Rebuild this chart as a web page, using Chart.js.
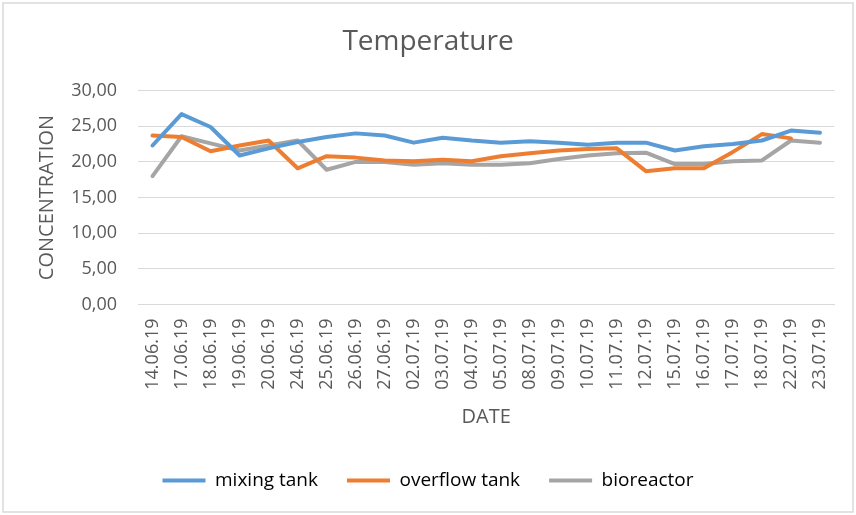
<!DOCTYPE html>
<html>
<head>
<meta charset="utf-8">
<script src="https://cdn.jsdelivr.net/npm/chart.js@4"></script>
<style>
	html, body { margin: 0; padding: 0; background: #fff; }
	#wrap { width: 856px; height: 515px; }
</style>
</head>
<body>
<div id="wrap"><canvas id="tempChart" width="856" height="515"></canvas></div>
<script>
var dates = ["14.06.19", "17.06.19", "18.06.19", "19.06.19", "20.06.19", "24.06.19", "25.06.19", "26.06.19",
	"27.06.19", "02.07.19", "03.07.19", "04.07.19", "05.07.19", "08.07.19", "09.07.19", "10.07.19",
	"11.07.19", "12.07.19", "15.07.19", "16.07.19", "17.07.19", "18.07.19", "22.07.19", "23.07.19"];

var mixingTank = [22.3, 26.7, 24.9, 20.9, 21.9, 22.8, 23.5, 24.0, 23.7, 22.7, 23.4, 23.0,
	22.7, 22.9, 22.7, 22.4, 22.7, 22.7, 21.6, 22.2, 22.5, 23.0, 24.4, 24.1];
var overflowTank = [23.7, 23.5, 21.5, 22.3, 23.0, 19.1, 20.8, 20.6, 20.2, 20.1, 20.3, 20.1,
	20.8, 21.2, 21.6, 21.8, 21.9, 18.7, 19.1, 19.1, 21.4, 23.9, 23.3, null];
var bioreactor = [18.0, 23.6, 22.6, 21.6, 22.3, 23.0, 18.9, 20.0, 20.0, 19.6, 19.8, 19.6,
	19.6, 19.8, 20.4, 20.9, 21.2, 21.3, 19.7, 19.7, 20.1, 20.2, 23.0, 22.7];

var yTicks = [0, 5, 10, 15, 20, 25, 30];

var textColor = "#595959";
var gridColor = "#d9d9d9";
var fontName = "'Open Sans', sans-serif";

Chart.defaults.font.family = fontName;
Chart.defaults.color = textColor;

function line(name, data, color) {
	return {
		label: name,
		data: data,
		borderColor: color,
		backgroundColor: color,
		borderWidth: 4,
		pointRadius: 0,
		pointHoverRadius: 0,
		tension: 0,
		borderJoinStyle: "round",
		borderCapStyle: "round",
		fill: false,
	};
}

// outer frame like the excel chart box
var framePlugin = {
	id: "frame",
	beforeDraw: function (chart) {
		var ctx = chart.ctx;
		ctx.save();
		ctx.fillStyle = "#fff";
		ctx.fillRect(0, 0, chart.width, chart.height);
		ctx.strokeStyle = gridColor;
		ctx.lineWidth = 1.5;
		ctx.strokeRect(3, 3, chart.width - 6, chart.height - 6);
		ctx.restore();
	},
};

var ctx = document.getElementById("tempChart").getContext("2d");
var tempChart = new Chart(ctx, {
	type: "line",
	data: {
		labels: dates,
		datasets: [
			line("mixing tank", mixingTank, "#5b9bd5"),
			line("overflow tank", overflowTank, "#ed7d31"),
			line("bioreactor", bioreactor, "#a5a5a5"),
		],
	},
	options: {
		responsive: false,
		animation: false,
		spanGaps: false,
		layout: { padding: { top: 10, left: 20, right: 20, bottom: 15 } },
		plugins: {
			title: {
				display: true,
				text: "Temperature",
				color: textColor,
				font: { size: 28, weight: "normal" },
				padding: { top: 15, bottom: 32 },
			},
			legend: {
				position: "bottom",
				labels: {
					boxWidth: 43,
					boxHeight: 4,
					padding: 29,
					color: textColor,
					font: { size: 19 },
					generateLabels: function (chart) {
						return chart.data.datasets.map(function (ds, i) {
							return {
								text: ds.label,
								fillStyle: ds.borderColor,
								strokeStyle: ds.borderColor,
								lineWidth: 0,
								datasetIndex: i,
							};
						});
					},
				},
			},
			tooltip: { enabled: false },
		},
		scales: {
			x: {
				offset: true,
				grid: { display: false, drawTicks: false },
				border: { display: true, color: gridColor, width: 1 },
				ticks: {
					autoSkip: false,
					minRotation: 90,
					maxRotation: 90,
					padding: 14,
					color: textColor,
					font: { size: 18 },
				},
				title: {
					display: true,
					text: "DATE",
					color: textColor,
					font: { size: 20 },
					padding: { top: 14, bottom: 13 },
				},
				afterFit: function (scale) {
					scale.height = 137.5;
				},
			},
			y: {
				min: 0,
				max: 30,
				afterBuildTicks: function (scale) {
					scale.ticks = yTicks.map(function (v) { return { value: v }; });
				},
				grid: { color: gridColor, lineWidth: 1, drawTicks: false },
				border: { display: false },
				ticks: {
					padding: 21,
					color: textColor,
					font: { size: 18 },
					callback: function (value) {
						return Number(value).toFixed(2).replace(".", ",");
					},
				},
				title: {
					display: true,
					text: "CONCENTRATION",
					color: textColor,
					font: { size: 20 },
					padding: { top: 15, bottom: 0 },
				},
				afterFit: function (scale) {
					scale.width = 118;
				},
			},
		},
	},
	plugins: [framePlugin],
});
</script>
</body>
</html>
